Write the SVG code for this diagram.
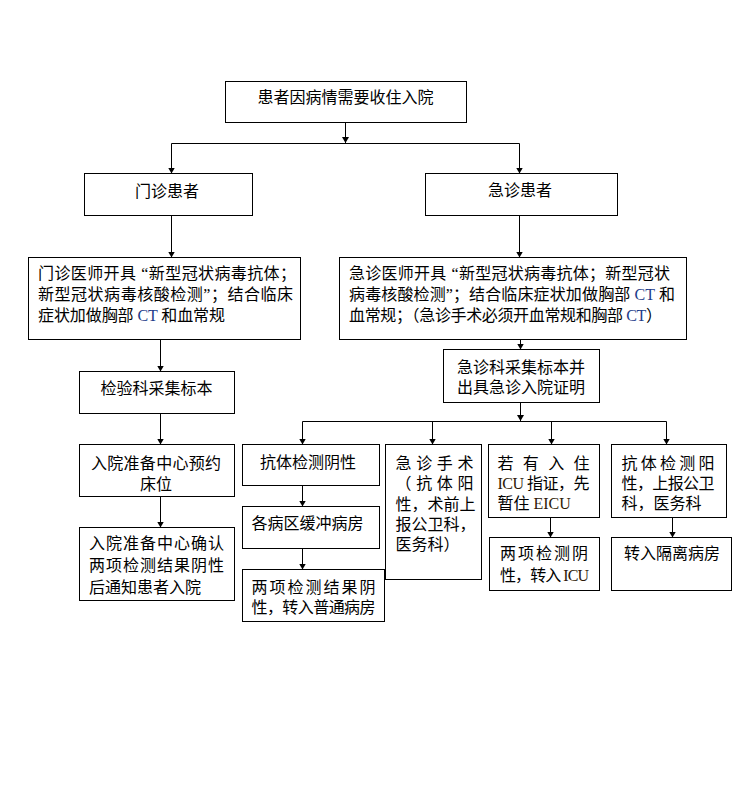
<svg xmlns="http://www.w3.org/2000/svg" width="741" height="802" viewBox="0 0 741 802">
<style>
.box{fill:#fff;stroke:#000;stroke-width:1}
.t{font-family:'Liberation Serif','Noto Sans CJK SC','Noto Sans CJK TC',serif;font-size:16px;fill:#000}
.lat{font-size:16px}
.ct{fill:#1d3c8a}
.icu{fill:#2e1a06}
.c{stroke:#000;stroke-width:1;fill:none}
.a{marker-end:url(#ah)}
</style>
<defs>
<marker id="ah" viewBox="0 0 6 7" refX="6" refY="3.5" markerWidth="6" markerHeight="7" markerUnits="userSpaceOnUse" orient="auto">
<path d="M0,0 L6,3.5 L0,7 z" fill="#000"/>
</marker>
</defs>
<rect width="741" height="802" fill="#fff"/>
<g id="connectors">
<line class="c a" x1="345.5" y1="122.5" x2="345.5" y2="143"/>
<line class="c" x1="171.5" y1="143.5" x2="519.5" y2="143.5"/>
<line class="c a" x1="171.5" y1="143.5" x2="171.5" y2="173.5"/>
<line class="c a" x1="519.5" y1="143.5" x2="519.5" y2="173.5"/>
<line class="c a" x1="171.5" y1="215.5" x2="171.5" y2="257.5"/>
<line class="c a" x1="519.5" y1="215.5" x2="519.5" y2="257.5"/>
<line class="c a" x1="160.5" y1="339.5" x2="160.5" y2="371.5"/>
<line class="c a" x1="160.5" y1="413.5" x2="160.5" y2="444.5"/>
<line class="c a" x1="160.5" y1="496.5" x2="160.5" y2="527.5"/>
<line class="c a" x1="520.5" y1="339.5" x2="520.5" y2="349.5"/>
<line class="c a" x1="520.5" y1="402.5" x2="520.5" y2="421"/>
<line class="c" x1="302.5" y1="421.5" x2="666.5" y2="421.5"/>
<line class="c a" x1="302.5" y1="421.5" x2="302.5" y2="444.5"/>
<line class="c a" x1="432.5" y1="421.5" x2="432.5" y2="444.5"/>
<line class="c a" x1="551.5" y1="421.5" x2="551.5" y2="444.5"/>
<line class="c a" x1="666.5" y1="421.5" x2="666.5" y2="444.5"/>
<line class="c a" x1="302.5" y1="485.5" x2="302.5" y2="506.5"/>
<line class="c a" x1="302.5" y1="548.5" x2="302.5" y2="569.5"/>
<line class="c a" x1="550.5" y1="517.5" x2="550.5" y2="537.5"/>
<line class="c a" x1="672.5" y1="517.5" x2="672.5" y2="537.5"/>
</g>
<g id="n-top">
<rect class="box" x="225.5" y="81.5" width="241" height="41"/>
<text class="t" x="345.5" y="103" text-anchor="middle">患者因病情需要收住入院</text>
</g>
<g id="n-outpatient">
<rect class="box" x="84.5" y="173.5" width="168" height="42"/>
<text class="t" x="167" y="197" text-anchor="middle">门诊患者</text>
</g>
<g id="n-emergency">
<rect class="box" x="425.5" y="173.5" width="192" height="42"/>
<text class="t" x="520" y="196" text-anchor="middle">急诊患者</text>
</g>
<g id="n-outpatient-order">
<rect class="box" x="28.5" y="257.5" width="272" height="82"/>
<text class="t" x="38" y="279" textLength="258" lengthAdjust="spacing">门诊医师开具<tspan dx="5">“</tspan>新型冠状病毒抗体；</text>
<text class="t" x="38" y="300" textLength="255" lengthAdjust="spacing">新型冠状病毒核酸检测”；结合临床</text>
<text class="t" x="38" y="321" textLength="187" lengthAdjust="spacing">症状加做胸部 <tspan class="lat ct">CT</tspan> 和血常规</text>
</g>
<g id="n-emergency-order">
<rect class="box" x="339.5" y="257.5" width="347" height="82"/>
<text class="t" x="349" y="279" textLength="321" lengthAdjust="spacing">急诊医师开具<tspan dx="5">“</tspan>新型冠状病毒抗体；新型冠状</text>
<text class="t" x="349" y="300" textLength="326" lengthAdjust="spacing">病毒核酸检测”；结合临床症状加做胸部 <tspan class="lat ct">CT</tspan> 和</text>
<text class="t" x="349" y="321" textLength="313" lengthAdjust="spacing">血常规；（急诊手术必须开血常规和胸部 <tspan class="lat ct">CT</tspan>）</text>
</g>
<g id="n-lab">
<rect class="box" x="79.5" y="371.5" width="155" height="42"/>
<text class="t" x="156.5" y="394" text-anchor="middle">检验科采集标本</text>
</g>
<g id="n-er-sample">
<rect class="box" x="443.5" y="349.5" width="156" height="53"/>
<text class="t" x="457" y="372.5" textLength="128" lengthAdjust="spacing">急诊科采集标本并</text>
<text class="t" x="457" y="392.5" textLength="128" lengthAdjust="spacing">出具急诊入院证明</text>
</g>
<g id="n-reserve">
<rect class="box" x="79.5" y="444.5" width="155" height="52"/>
<text class="t" x="91" y="468.5" textLength="130" lengthAdjust="spacing">入院准备中心预约</text>
<text class="t" x="156" y="490" text-anchor="middle">床位</text>
</g>
<g id="n-confirm">
<rect class="box" x="79.5" y="527.5" width="155" height="73"/>
<text class="t" x="89" y="548.5" textLength="135" lengthAdjust="spacing">入院准备中心确认</text>
<text class="t" x="89" y="571" textLength="135" lengthAdjust="spacing">两项检测结果阴性</text>
<text class="t" x="89" y="592.5">后通知患者入院</text>
</g>
<g id="n-ab-neg">
<rect class="box" x="242.5" y="444.5" width="137" height="41"/>
<text class="t" x="260" y="467.5">抗体检测阴性</text>
</g>
<g id="n-buffer">
<rect class="box" x="242.5" y="506.5" width="137" height="42"/>
<text class="t" x="251.5" y="528.5">各病区缓冲病房</text>
</g>
<g id="n-general">
<rect class="box" x="242.5" y="569.5" width="142" height="52"/>
<text class="t" x="251.5" y="593" textLength="124" lengthAdjust="spacing">两项检测结果阴</text>
<text class="t" x="251.5" y="612.5" textLength="124" lengthAdjust="spacing">性，转入普通病房</text>
</g>
<g id="n-surgery">
<rect class="box" x="385.5" y="444.5" width="96" height="135"/>
<text class="t" x="395.5" y="468.5" textLength="78" lengthAdjust="spacing">急诊手术</text>
<text class="t" x="395.5" y="489" textLength="78" lengthAdjust="spacing">（抗体阳</text>
<text class="t" x="395.5" y="509.5" textLength="80" lengthAdjust="spacing">性，术前上</text>
<text class="t" x="395.5" y="530">报公卫科，</text>
<text class="t" x="395.5" y="550">医务科）</text>
</g>
<g id="n-icu">
<rect class="box" x="488.5" y="444.5" width="111" height="73"/>
<text class="t" x="497.5" y="468.5" textLength="92" lengthAdjust="spacing">若有入住</text>
<text class="t" x="497.5" y="488.5" textLength="92" lengthAdjust="spacing"><tspan class="lat icu">ICU</tspan> 指证，先</text>
<text class="t" x="497.5" y="508.5">暂住 <tspan class="lat icu">EICU</tspan></text>
</g>
<g id="n-icu-transfer">
<rect class="box" x="489.5" y="537.5" width="110" height="53"/>
<text class="t" x="500" y="559" textLength="88" lengthAdjust="spacing">两项检测阴</text>
<text class="t" x="500" y="581" textLength="89" lengthAdjust="spacing">性，转入 <tspan class="lat icu">ICU</tspan></text>
</g>
<g id="n-ab-pos">
<rect class="box" x="611.5" y="444.5" width="115" height="73"/>
<text class="t" x="621.5" y="468.5" textLength="93" lengthAdjust="spacing">抗体检测阳</text>
<text class="t" x="621.5" y="488.5" textLength="93" lengthAdjust="spacing">性，上报公卫</text>
<text class="t" x="621.5" y="508.5">科，医务科</text>
</g>
<g id="n-isolation">
<rect class="box" x="611.5" y="537.5" width="120" height="53"/>
<text class="t" x="624" y="559">转入隔离病房</text>
</g>
</svg>
